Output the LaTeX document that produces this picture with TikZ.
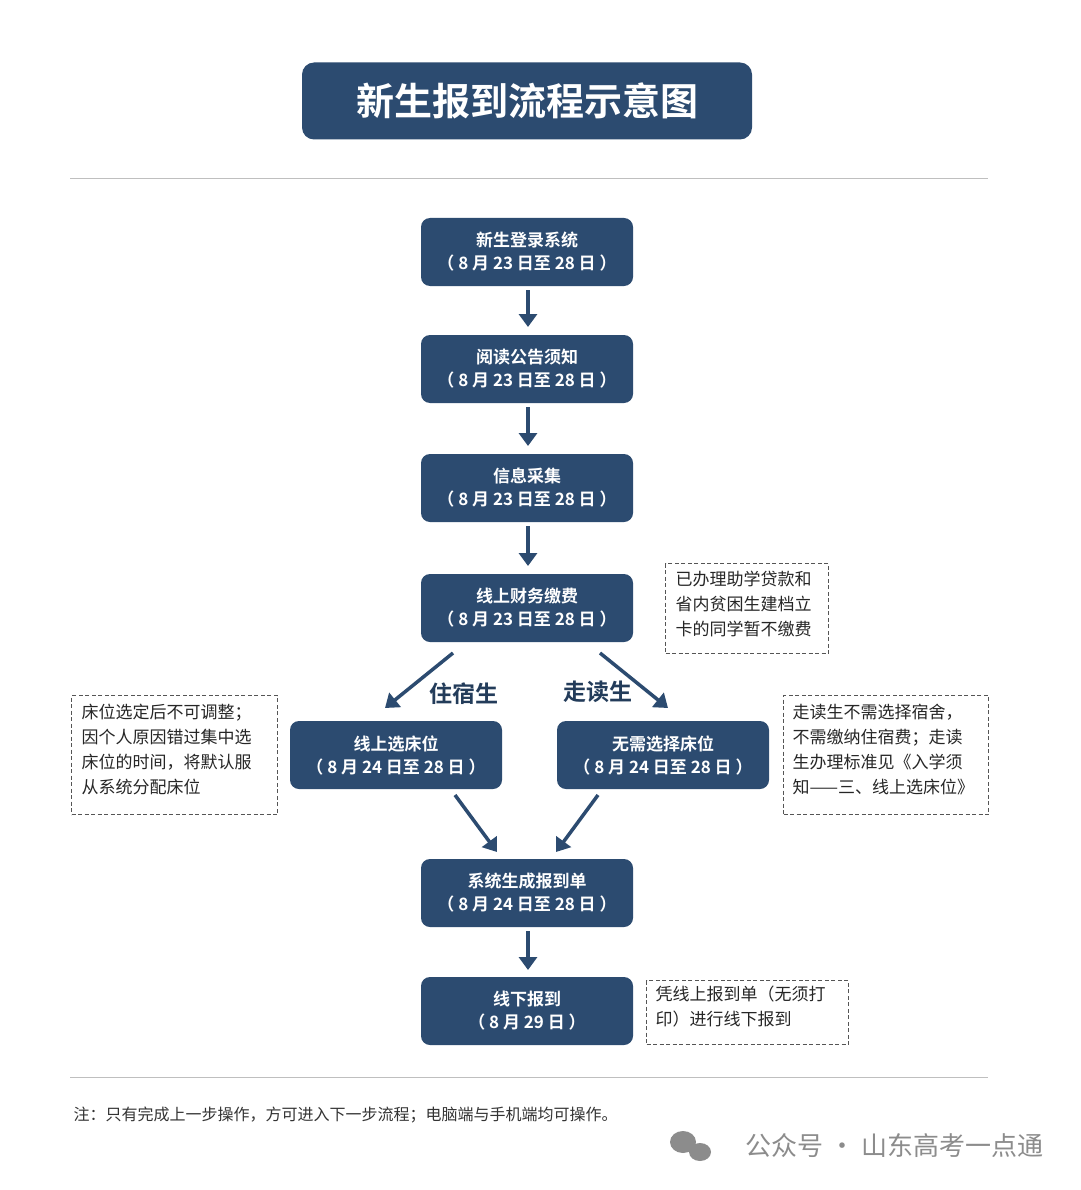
\documentclass[tikz,border=0pt]{standalone}
\usepackage{fontspec}
\setmainfont{Noto Sans CJK SC}[BoldFont={Noto Sans CJK SC Bold}]
\usetikzlibrary{arrows.meta}
\definecolor{navy}{HTML}{2C4B70}
\definecolor{notegray}{HTML}{555555}
\tikzset{
	stage/.style={fill=navy,rounded corners=9pt,minimum width=212pt,minimum height=68pt,
		text=white,font=\fontsize{17}{23}\selectfont\bfseries,align=center,inner sep=0pt},
	note/.style={draw=notegray,dash pattern=on 4pt off 2.5pt,line width=1.3pt,font=\fontsize{17}{25}\selectfont,
		text=black!85,align=left,anchor=north west,inner sep=0pt},
	flow/.style={draw=navy,line width=3.5pt,-{Triangle[length=13pt,width=18pt]}},
	branch/.style={font=\fontsize{23}{23}\selectfont\bfseries,text=navy!80!black},
}
\begin{document}
\begin{tikzpicture}[x=1pt,y=-1pt]

% frame %{{{2

	\useasboundingbox[fill=white] (0,0) rectangle (1080,1190);

% title %{{{2

	\node[fill=navy,rounded corners=12pt,minimum width=450pt,minimum height=77pt,
		text=white,font=\fontsize{38}{38}\selectfont\bfseries] (title) at (527,101) {新生报到流程示意图};
	\draw[black!25,line width=1pt] (70,179) -- (988,179);

% stages %{{{2

	\node[stage] (s1) at (527,252) {新生登录系统\\（ 8 月 23 日至 28 日 ）};
	\node[stage] (s2) at (527,369) {阅读公告须知\\（ 8 月 23 日至 28 日 ）};
	\node[stage] (s3) at (527,488) {信息采集\\（ 8 月 23 日至 28 日 ）};
	\node[stage] (s4) at (527,608) {线上财务缴费\\（ 8 月 23 日至 28 日 ）};
	\node[stage] (s5) at (396,755) {线上选床位\\（ 8 月 24 日至 28 日 ）};
	\node[stage] (s6) at (663,755) {无需选择床位\\（ 8 月 24 日至 28 日 ）};
	\node[stage] (s7) at (527,893) {系统生成报到单\\（ 8 月 24 日至 28 日 ）};
	\node[stage] (s8) at (527,1011) {线下报到\\（ 8 月 29 日 ）};

% connectors %{{{2

	\draw[flow] (528,290) -- (528,327);
	\draw[flow] (528,407) -- (528,446);
	\draw[flow] (528,526) -- (528,566);
	\draw[flow] (528,931) -- (528,970);

	\coordinate (a1) at (453,653); \coordinate (a2) at (385,708);
	\coordinate (b1) at (600,653); \coordinate (b2) at (668,708);
	\coordinate (c1) at (455,795); \coordinate (c2) at (497,852);
	\coordinate (d1) at (598,795); \coordinate (d2) at (556,852);
	\draw[flow] (a1) -- (a2);
	\draw[flow] (b1) -- (b2);
	\draw[flow] (c1) -- (c2);
	\draw[flow] (d1) -- (d2);

	\node[branch] (lz) at (464,694) {住宿生};
	\node[branch] (lw) at (598,692) {走读生};

% notes %{{{2

	\node[note,minimum width=163pt,minimum height=90pt] (n1) at (665,563) {};
	\node[note,draw=none] at (675,570) {已办理助学贷款和\\省内贫困生建档立\\卡的同学暂不缴费};
	\node[note,minimum width=206pt,minimum height=119pt] (n2) at (71,695) {};
	\node[note,draw=none] at (81,703) {床位选定后不可调整；\\因个人原因错过集中选\\床位的时间，将默认服\\从系统分配床位};
	\node[note,minimum width=205pt,minimum height=119pt] (n3) at (783,695) {};
	\node[note,draw=none] at (792,703) {走读生不需选择宿舍，\\不需缴纳住宿费；走读\\生办理标准见《入学须\\知——三、线上选床位》};
	\node[note,minimum width=202pt,minimum height=64pt] (n4) at (646,980) {};
	\node[note,draw=none] at (655,985) {凭线上报到单（无须打\\印）进行线下报到};

% footer %{{{2

	\draw[black!25,line width=1pt] (70,1077) -- (988,1077);
	\node[anchor=west,font=\fontsize{16}{16}\selectfont,text=black!80] (foot) at (70,1115)
		{注：只有完成上一步操作，方可进入下一步流程；电脑端与手机端均可操作。};
	\node[anchor=east,font=\fontsize{26}{26}\selectfont,text=black!45] (mark) at (1047,1146)
		{公众号 · 山东高考一点通};
	\fill[black!45] (683,1142) ellipse (13pt and 11pt);
	\fill[black!45] (700,1152) ellipse (11pt and 9pt);

\end{tikzpicture}
\end{document}
